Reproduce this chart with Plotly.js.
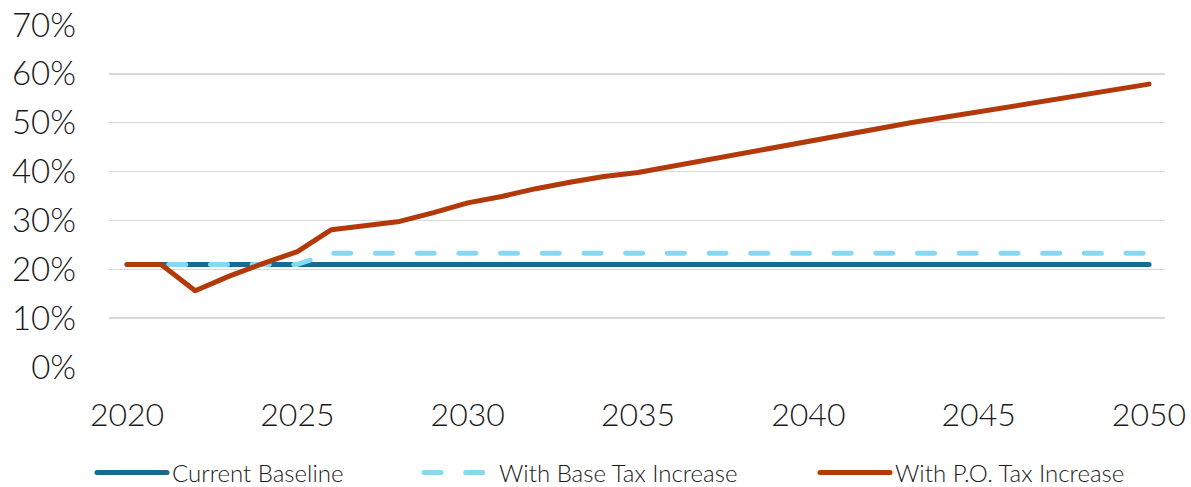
<!DOCTYPE html>
<html>
<head>
<meta charset="utf-8">
<script src="https://cdn.plot.ly/plotly-3.0.1.min.js"></script>
<style>
html,body{margin:0;padding:0;background:#fff;}
#chart{width:1191px;height:487px;}
.scatterlayer path.js-line{stroke-linecap:round !important;stroke-linejoin:round !important;}
.legendlines path{stroke-linecap:round !important;}
</style>
</head>
<body>
<div id="chart"></div>
<script>
const years = [];
for (let y = 2020; y <= 2050; y++) years.push(y);

const currentBaseline = [21,21,21,21,21,21,21,21,21,21,21,21,21,21,21,21,21,21,21,21,21,21,21,21,21,21,21,21,21,21,21];
const baseTaxIncrease = [21,21,21,21,21,21,23.3,23.3,23.3,23.3,23.3,23.3,23.3,23.3,23.3,23.3,23.3,23.3,23.3,23.3,23.3,23.3,23.3,23.3,23.3,23.3,23.3,23.3,23.3,23.3,23.3];
const poTaxIncrease = [21,21,15.6,18.6,21.2,23.6,28.1,29.0,29.8,31.6,33.6,34.9,36.5,37.8,39.0,39.8,41.1,42.3,43.7,45.0,46.3,47.6,48.8,50.0,51.1,52.2,53.3,54.5,55.6,56.8,57.9];

const seriesNames = ["Current Baseline", "With Base Tax Increase", "With P.O. Tax Increase"];
const yTicks = [0,10,20,30,40,50,60,70];
const yTickText = ["0%","10%","20%","30%","40%","50%","60%","70%"];
const xTicks = [2020,2025,2030,2035,2040,2045,2050];

const FONT = "Lato, 'Open Sans', sans-serif";

const traces = [
  {x: years, y: currentBaseline, name: seriesNames[0], type: "scatter", mode: "lines",
   line: {color: "#186a8f", width: 5}, legend: "legend"},
  {x: years, y: baseTaxIncrease, name: seriesNames[1], type: "scatter", mode: "lines",
   line: {color: "#87d9f3", width: 5, dash: "17px,24.7px"}, legend: "legend2"},
  {x: years, y: poTaxIncrease, name: seriesNames[2], type: "scatter", mode: "lines",
   line: {color: "#b3390b", width: 5}, legend: "legend3"}
];

const legendBase = {
  orientation: "h", xref: "container", yref: "container",
  yanchor: "middle", xanchor: "left", y: 1 - 473/487,
  font: {family: FONT, size: 24, color: "#1a1a1a", weight: 300},
  itemwidth: 70, bgcolor: "rgba(0,0,0,0)", borderwidth: 0,
  itemclick: false, itemdoubleclick: false
};

const layout = {
  width: 1191, height: 487,
  margin: {l: 109, r: 26, t: 25, b: 120},
  paper_bgcolor: "#ffffff", plot_bgcolor: "#ffffff",
  font: {family: FONT, color: "#1a1a1a", weight: 300},
  showlegend: true,
  legend: Object.assign({}, legendBase, {x: 92/1191}),
  legend2: Object.assign({}, legendBase, {x: 419/1191}),
  legend3: Object.assign({}, legendBase, {x: 815/1191}),
  xaxis: {
    range: [2019.47, 2050.47], tickmode: "array", tickvals: xTicks,
    showgrid: false, zeroline: false, showline: false,
    ticks: "", ticklabelstandoff: 26,
    tickfont: {family: FONT, size: 32, color: "#1a1a1a", weight: 300}
  },
  yaxis: {
    range: [0, 70], tickmode: "array", tickvals: yTicks, ticktext: yTickText,
    showgrid: true, gridcolor: "#d9d9d9", gridwidth: 1.5,
    zeroline: false, showline: false, ticks: "", ticklabelstandoff: 32,
    tickfont: {family: FONT, size: 33, color: "#1a1a1a", weight: 300}
  }
};

Plotly.newPlot("chart", traces, layout, {displayModeBar: false, staticPlot: true});
</script>
</body>
</html>
